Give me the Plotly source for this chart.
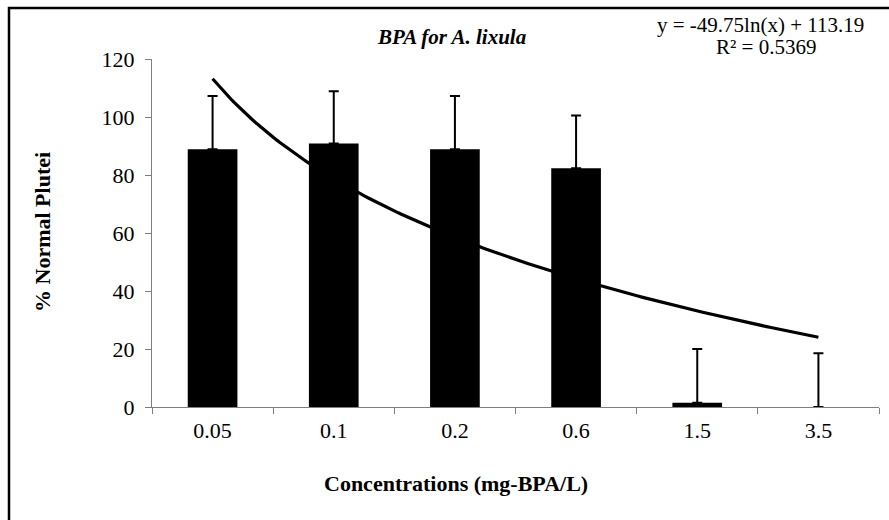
import numpy as np
import plotly.graph_objects as go

# Concentrations tested and the resulting % normal plutei
concentrations = ["0.05", "0.1", "0.2", "0.6", "1.5", "3.5"]
normal_pct = [88.9, 90.9, 88.9, 82.3, 1.5, 0.0]
sd_upper = [18.3, 18.0, 18.3, 18.2, 18.5, 18.5]

# Logarithmic trendline y = a*ln(x) + b over category index x = 1..6
trend_a = -49.75
trend_b = 113.19
trend_r2 = 0.5369

serif = "Liberation Serif"

# plot-area pixel geometry used for placing the text blocks
PL, PR, PT, PB = 152, 879, 59, 407
def px(x):
    return (x - PL) / (PR - PL)
def py(y):
    return (PB - y) / (PB - PT)

fig = go.Figure()

fig.add_trace(go.Bar(
    x=concentrations,
    y=normal_pct,
    marker=dict(color="black", line=dict(width=0)),
    error_y=dict(type="data", array=sd_upper, arrayminus=[0] * len(sd_upper),
                 symmetric=False, color="black", thickness=2, width=5),
    showlegend=False,
    hoverinfo="x+y",
))

xi = np.linspace(1, len(concentrations), 200)
fig.add_trace(go.Scatter(
    x=xi,
    y=trend_a * np.log(xi) + trend_b,
    mode="lines",
    line=dict(color="black", width=3.2),
    xaxis="x2",
    showlegend=False,
    hoverinfo="skip",
))

fig.update_layout(
    width=889,
    height=520,
    margin=dict(l=PL, r=889 - PR, t=PT, b=520 - PB),
    paper_bgcolor="white",
    plot_bgcolor="white",
    bargap=0.59,
    font=dict(family=serif, size=21, color="black"),
    xaxis=dict(
        type="category",
        tickson="boundaries",
        ticks="outside",
        ticklen=6,
        tickcolor="#7f7f7f",
        showline=True,
        linecolor="#7f7f7f",
        linewidth=1,
        showgrid=False,
        zeroline=False,
        tickfont=dict(family=serif, size=22),
        ticklabelstandoff=4,
    ),
    xaxis2=dict(
        overlaying="x",
        range=[0.5, len(concentrations) + 0.5],
        visible=False,
    ),
    yaxis=dict(
        range=[0, 120],
        tickvals=[0, 20, 40, 60, 80, 100, 120],
        ticks="outside",
        ticklen=6,
        tickcolor="#7f7f7f",
        showline=True,
        linecolor="#7f7f7f",
        linewidth=1,
        showgrid=False,
        zeroline=False,
        tickfont=dict(family=serif, size=22),
        ticklabelstandoff=6,
    ),
    annotations=[
        dict(text="<b><i>BPA for A. lixula</i></b>", xref="paper", yref="paper",
             x=px(451), y=py(37), showarrow=False,
             font=dict(family=serif, size=21), xanchor="center", yanchor="middle"),
        dict(text=f"y = {trend_a}ln(x) + {trend_b}", xref="paper", yref="paper",
             x=px(760), y=py(25), showarrow=False,
             font=dict(family=serif, size=21), xanchor="center", yanchor="middle"),
        dict(text=f"R² = {trend_r2}", xref="paper", yref="paper",
             x=px(766), y=py(47), showarrow=False,
             font=dict(family=serif, size=21), xanchor="center", yanchor="middle"),
        dict(text="<b>Concentrations (mg-BPA/L)</b>", xref="paper", yref="paper",
             x=px(456), y=py(483), showarrow=False,
             font=dict(family=serif, size=22), xanchor="center", yanchor="middle"),
        dict(text="<b>% Normal Plutei</b>", xref="paper", yref="paper",
             x=px(42), y=py(232), showarrow=False, textangle=-90,
             font=dict(family=serif, size=22), xanchor="center", yanchor="middle"),
    ],
    shapes=[
        dict(type="rect", xref="paper", yref="paper",
             x0=px(9), x1=1.2, y0=-0.6, y1=py(8),
             line=dict(color="black", width=2.5), fillcolor="rgba(0,0,0,0)",
             layer="above"),
    ],
)

fig.write_html("out.html")
